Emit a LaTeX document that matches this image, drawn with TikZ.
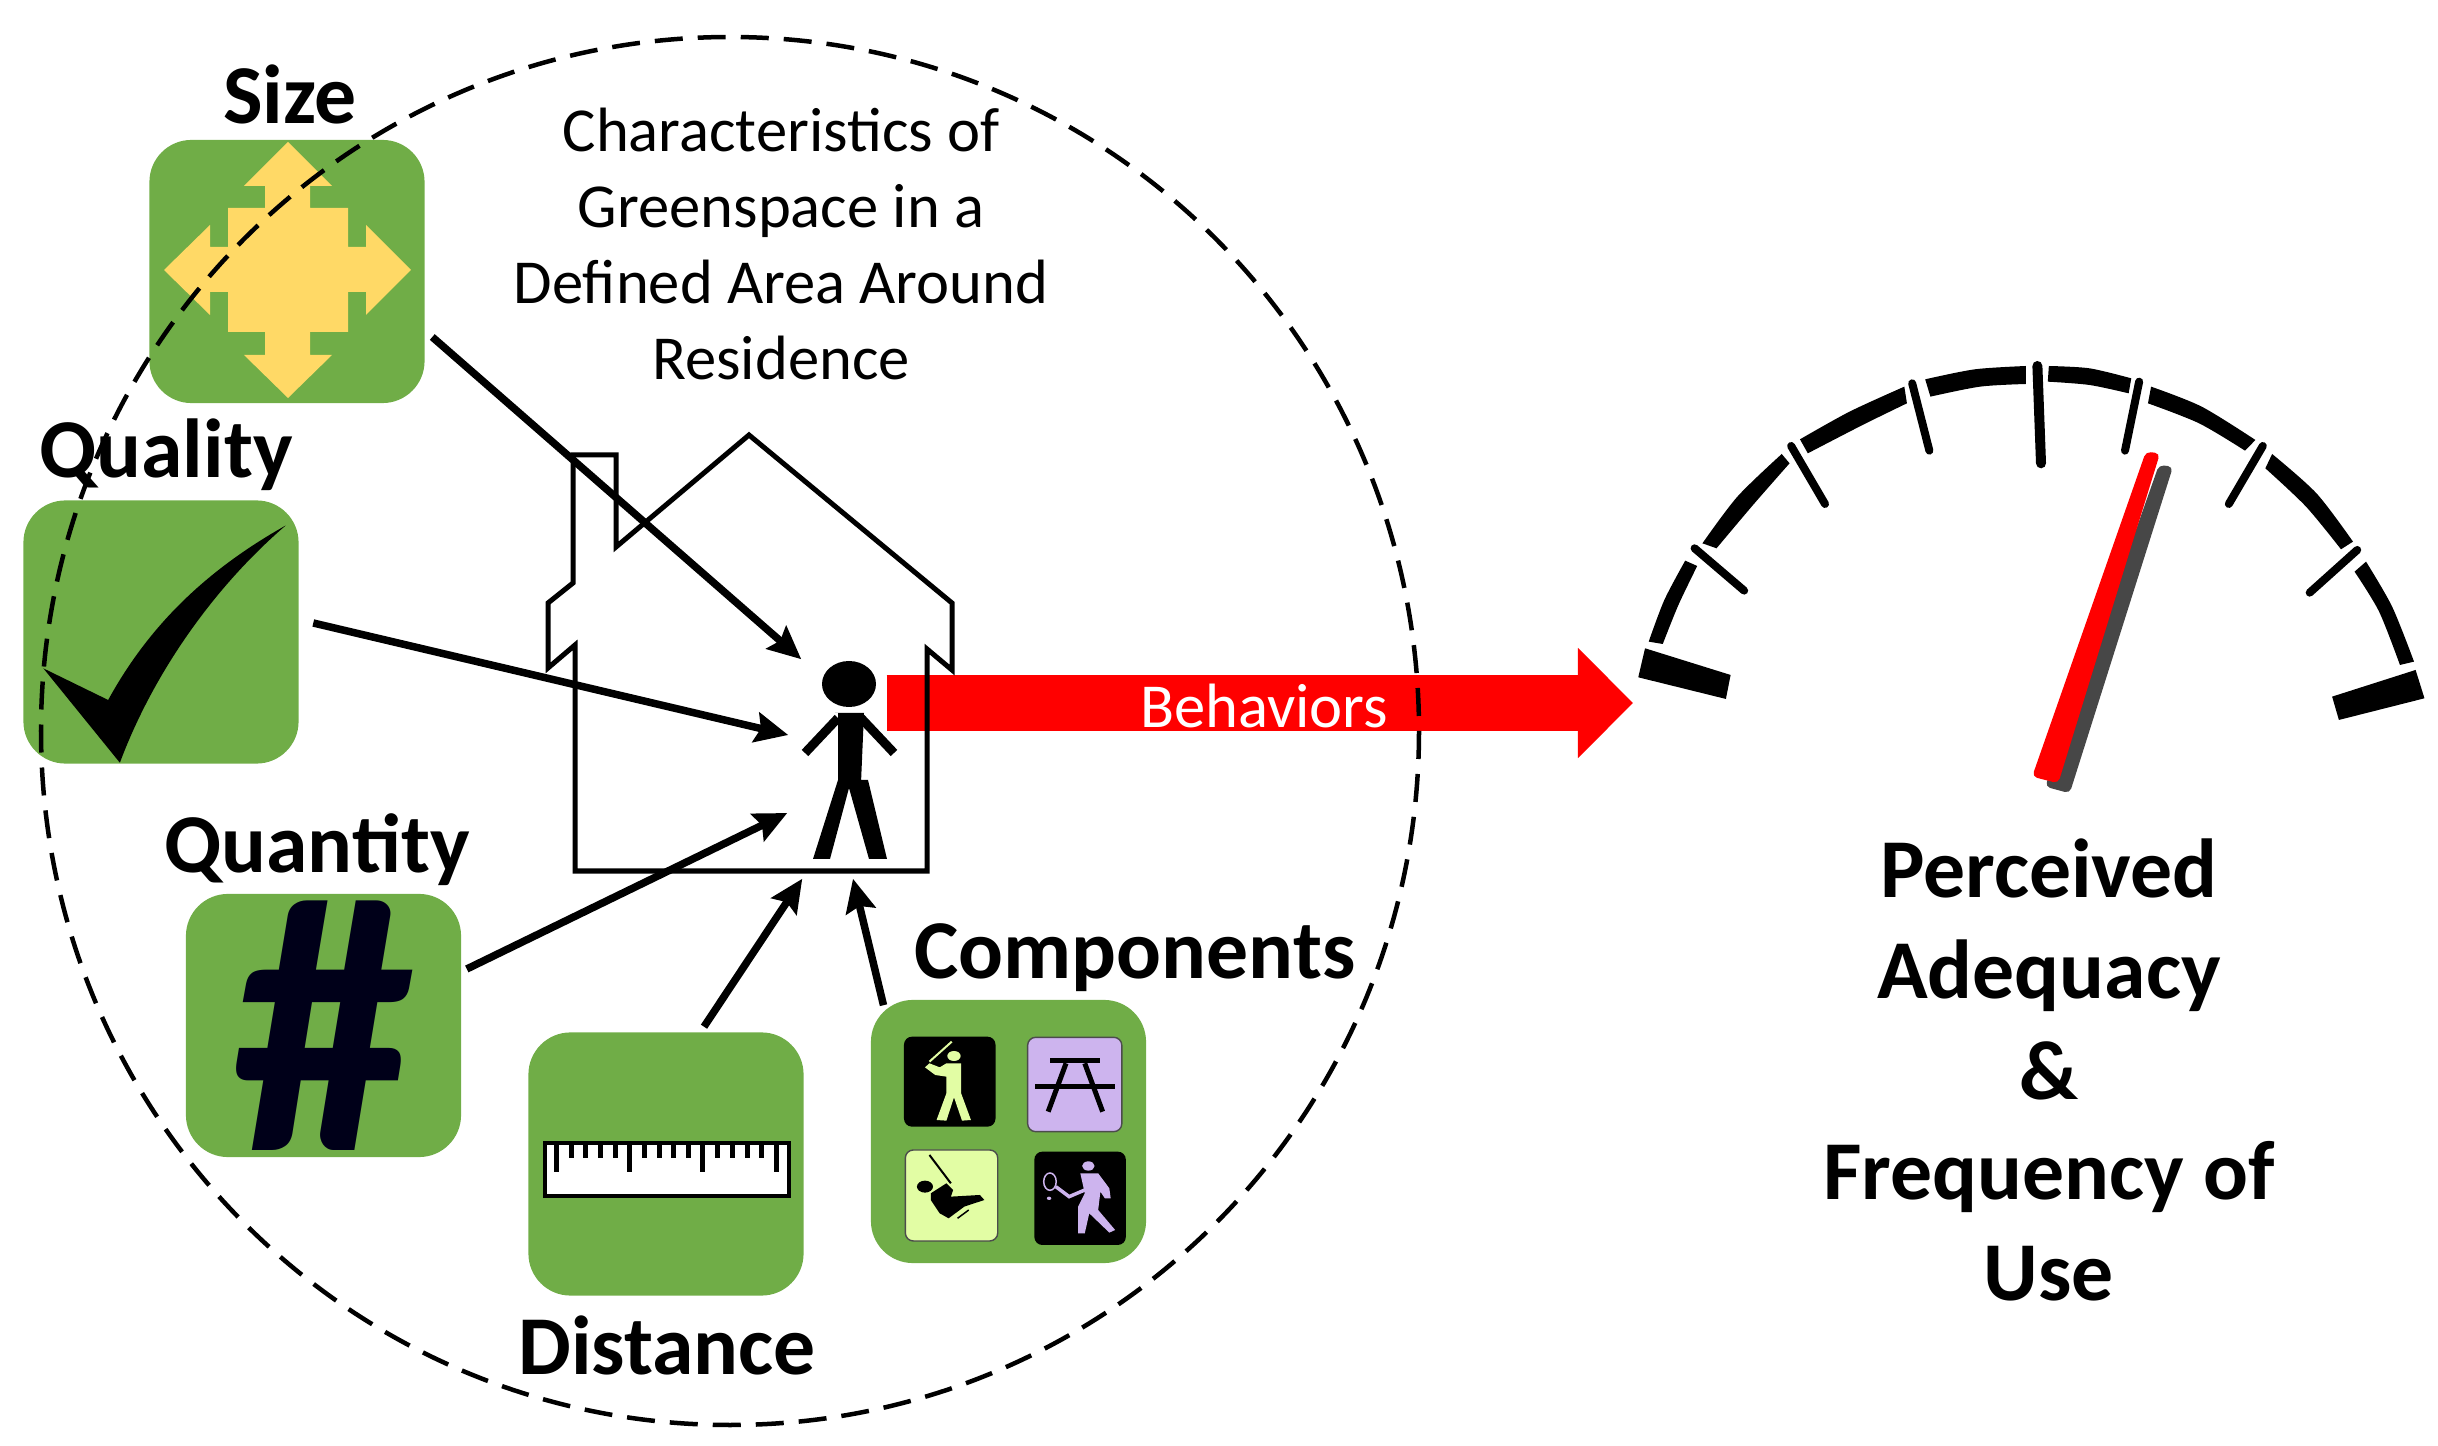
\documentclass[tikz,border=0pt]{standalone}
\usepackage{fontspec}
\setmainfont{Carlito}
\usetikzlibrary{arrows.meta}
\definecolor{boxgreen}{HTML}{70AD47}
\definecolor{sizeyellow}{HTML}{FFD966}
\definecolor{iconlime}{HTML}{E2FDA4}
\definecolor{iconlilac}{HTML}{CDB4EE}
\tikzset{
  greenbox/.style={fill=boxgreen,rounded corners=0.42cm,inner sep=0pt,minimum width=2.75cm,minimum height=2.63cm},
  headlabel/.style={font=\bfseries\fontsize{23.8}{28.7}\selectfont,align=center,inner sep=0pt},
  plainlabel/.style={font=\fontsize{17.8}{21.6}\selectfont,align=center,inner sep=0pt},
  flowarrow/.style={line width=0.075cm,-{Stealth[length=0.33cm,width=0.3cm,inset=0.05cm]}},
  gaugetick/.style={line width=0.08cm,line cap=round}
}
\newcommand{\gaugeseg}[2]{\fill plot[smooth] coordinates {#1} -- plot[smooth] coordinates {#2} -- cycle;}
\begin{document}
\begin{tikzpicture}[x=0.01cm,y=-0.01cm]
  \useasboundingbox (0,0) rectangle (2438,1446);
  % boxes
  \node[greenbox] (sizebox) at (287,271.5) {};
  \node[greenbox] (qualitybox) at (161,632) {};
  \node[greenbox] (quantitybox) at (323.5,1025.5) {};
  \node[greenbox] (distancebox) at (666,1164) {};
  \node[greenbox] (componentsbox) at (1008.5,1131.5) {};
  \node[inner sep=0pt,minimum width=1.22cm,minimum height=2.18cm] (person) at (849,769) {};
  \coordinate (gaugeside) at (1633,703);
  % behaviours arrow goes under the house
  \draw[red,line width=0.55cm,-{Triangle[length=0.55cm,width=1.07cm]}]
    ([shift={(-24,-66)}]person.east) -- (gaugeside);
  \node[white,plainlabel] (behaviors) at (1264,706) {Behaviors};
  % house
  \draw[line width=0.05cm,line join=miter] (575,871)--(575,645)--(548,668)--(548,603)--(573,583)--(573,455)
    --(616,455)--(616,547)--(749,435)--(952,603)--(952,670)--(927,649)--(927,871)--cycle;
  % person
  \fill (849,684) ellipse (27 and 23);
  \fill (835,713)--(864,713)--(861,783)--(861,780)--(868,780)--(887,859)--(869,859)--(849,788)
    --(830,859)--(813,859)--(838,780)--(838,713)--cycle;
  \draw[line width=0.09cm] (838,718)--(805,753);
  \draw[line width=0.09cm] (861,718)--(894,753);
  % size icon
  \fill[sizeyellow] (288,142)--(332,186)--(310,186)--(310,208)--(348,208)--(348,247)--(366,247)--(366,225)
    --(411,270)--(366,315)--(366,292)--(348,292)--(348,332)--(310,332)--(310,355)--(332,355)--(288,398)
    --(244,355)--(265,355)--(265,332)--(228,332)--(228,292)--(210,292)--(210,315)--(164,270)--(210,225)
    --(210,247)--(228,247)--(228,208)--(265,208)--(265,186)--(244,186)--cycle;
  % quality icon
  \begin{scope}[scale=0.5102]
    \fill (560,1030) .. controls (400,1120) and (290,1230) .. (212,1372) -- (85,1310) -- (235,1495)
      .. controls (300,1320) and (420,1150) .. (560,1030);
  \end{scope}
  % quantity icon
  \node[text=black!90!blue,font=\bfseries\fontsize{104}{104}\selectfont,inner sep=0pt] (hashsign) at (324,1026) {\#};
  % distance icon
  \draw[fill=white,line width=0.035cm] (545,1143) rectangle (789,1196);
  \foreach \i in {556,629,702,776}{
    \draw[line width=0.05cm] (\i,1143)--(\i,1172);
  }
  \foreach \i in {571,585,600,615,644,659,673,688,717,732,747,761}{
    \draw[line width=0.05cm] (\i,1143)--(\i,1158);
  }
  % components icons
  \begin{scope}[shift={(500,980)},xscale=0.4464,yscale=0.3333]
    \fill[rounded corners=0.08cm] (905,170) rectangle (1110,440);
    \draw[fill=iconlilac,draw=black!70,rounded corners=0.08cm] (1182,172) rectangle (1393,455);
    \draw[fill=iconlime,draw=black!70,rounded corners=0.08cm] (908,510) rectangle (1115,783);
    \fill[rounded corners=0.08cm] (1197,515) rectangle (1402,795);
    % batter
    \fill[iconlime] (1017,228) circle (15);
    \fill[iconlime] (1000,250)--(1033,250)--(1033,340)--(1055,420)--(1035,422)--(1017,352)--(1000,422)
      --(978,420)--(1000,340)--(1000,290)--(975,285)--(952,262)--(962,250)--(985,262)--cycle;
    \draw[iconlime,line width=0.02cm] (962,245)--(1012,185);
    % table
    \fill (1232,235) rectangle (1345,250);
    \fill (1198,313) rectangle (1378,328);
    \draw[line width=0.05cm] (1268,250)--(1228,395);
    \draw[line width=0.05cm] (1310,250)--(1350,395);
    % swing
    \draw[line width=0.02cm] (962,525)--(1010,610);
    \fill (952,620) circle (18);
    \fill (965,640)--(1000,610)--(1015,630)--(1010,650)--(1075,645)--(1085,660)--(1040,680)--(1005,715)
      --(985,700)--(965,660)--cycle;
    \draw[line width=0.015cm] (1025,715)--(1050,690);
    % tennis
    \fill[iconlilac] (1318,558) circle (14);
    \draw[iconlilac,line width=0.015cm] (1232,605) ellipse (14 and 26);
    \fill[iconlilac] (1230,655) circle (5);
    \draw[iconlilac,line width=0.035cm] (1245,620)--(1275,650)--(1310,630);
    \fill[iconlilac] (1300,580)--(1340,580)--(1365,625)--(1368,655)--(1355,655)--(1345,635)--(1340,690)
      --(1378,750)--(1365,758)--(1320,700)--(1310,760)--(1295,760)--(1295,680)--(1310,640)--cycle;
  \end{scope}
  % connectors
  \draw[flowarrow] ([shift={(7,65.5)}]sizebox.east) -- ([shift={(14,0)}]person.north west);
  \draw[flowarrow] ([shift={(14,-9)}]qualitybox.east) -- ([shift={(1,-34)}]person.west);
  \draw[flowarrow] ([shift={(5,-56.5)}]quantitybox.east) -- ([shift={(0,44)}]person.west);
  \draw[flowarrow] ([shift={(38,-5)}]distancebox.north) -- ([shift={(15,0)}]person.south west);
  \draw[flowarrow] ([shift={(-125,6)}]componentsbox.north) -- ([shift={(4,0)}]person.south);
  % area around residence
  \draw[dash pattern=on 0.28cm off 0.15cm,line width=0.045cm] (730,731) ellipse (689 and 694);
  % gauge
  \begin{scope}[shift={(1620,340)},xscale=0.5217,yscale=0.3333]
    \gaugeseg{(55,905) (85,780) (125,662)}{(148,678) (112,795) (82,912)}
    \gaugeseg{(158,610) (225,470) (310,342)}{(325,370) (255,495) (185,625)}
    \gaugeseg{(345,298) (440,215) (545,140)}{(550,190) (465,255) (360,340)}
    \gaugeseg{(585,118) (680,88) (778,78)}{(778,132) (690,140) (595,170)}
    \gaugeseg{(822,78) (900,85) (980,115)}{(975,160) (900,135) (820,125)}
    \gaugeseg{(1018,140) (1115,200) (1218,300)}{(1198,332) (1110,250) (1012,190)}
    \gaugeseg{(1250,342) (1335,460) (1405,605)}{(1382,628) (1315,500) (1237,385)}
    \gaugeseg{(1430,665) (1480,800) (1522,965)}{(1495,975) (1455,815) (1408,695)}
    \fill (48,925)--(212,1005)--(203,1077)--(35,1012)--cycle;
    \fill (1525,990)--(1542,1075)--(1378,1140)--(1365,1070)--cycle;
    \foreach \a/\b in {143/625,328/318,560/130,800/78,995/125,1232/318,1413/630}{
      \coordinate (ticktop\a) at (\a,\b);
    }
    \draw[gaugetick] (ticktop143)--(238,752);
    \draw[gaugetick] (ticktop328)--(393,492);
    \draw[gaugetick] (ticktop560)--(593,332);
    \draw[gaugetick,line width=0.1cm] (ticktop800)--(807,370);
    \draw[gaugetick] (ticktop995)--(968,332);
    \draw[gaugetick] (ticktop1232)--(1167,492);
    \draw[gaugetick] (ticktop1413)--(1322,758);
    % needle with its shadow
    \fill[black!72,rounded corners=0.05cm] (1033,375)--(1060,380)--(862,1360)--(815,1340)--cycle;
    \fill[red,rounded corners=0.05cm] (1008,335)--(1035,340)--(840,1330)--(790,1310)--cycle;
  \end{scope}
  % labels
  \node[headlabel] (sizelabel) at (290,94) {Size};
  \node[headlabel] (qualitylabel) at (166,455) {Quality};
  \node[headlabel] (quantitylabel) at (317,850) {Quantity};
  \node[headlabel] (distancelabel) at (667,1345) {Distance};
  \node[headlabel] (componentslabel) at (1135,958) {Components};
  \node[plainlabel] (arealabel) at (781,244) {Characteristics of\\Greenspace in a\\Defined Area Around\\Residence};
  \node[headlabel] (gaugelabel) at (2049,1070) {Perceived\\Adequacy\\\&\\Frequency of\\Use};
\end{tikzpicture}
\end{document}
